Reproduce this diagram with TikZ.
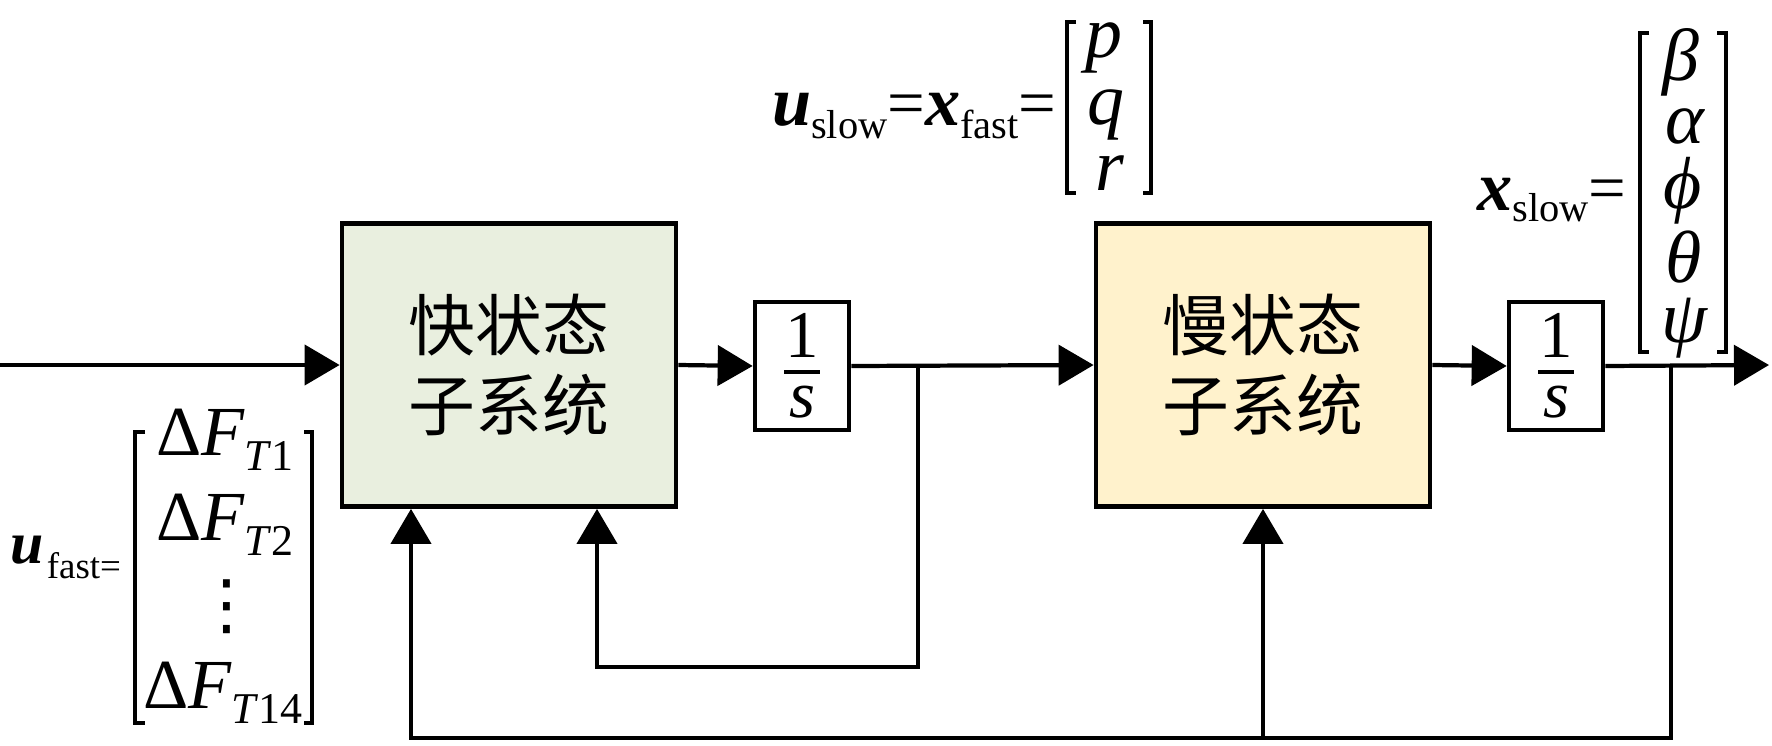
\documentclass[tikz,border=0pt]{standalone}
\usepackage{fontspec}
\setmainfont{Liberation Serif}[UprightFont=*, BoldFont=* Bold, ItalicFont=* Italic, BoldItalicFont=* Bold Italic]
\newfontfamily\tms{Liberation Serif}[UprightFont=*, BoldFont=* Bold, ItalicFont=* Italic, BoldItalicFont=* Bold Italic]
\newfontfamily\cjk{Noto Sans CJK SC}
\newfontfamily\djv{DejaVu Sans}
\usetikzlibrary{arrows.meta}
\definecolor{fastfill}{HTML}{E9EFDF}
\definecolor{slowfill}{HTML}{FFF2CC}
\newcommand\fsz[1]{\fontsize{#1}{#1}\selectfont}
\newcommand\lsub[3]{\raisebox{-#1}{\fsz{#2}#3}}
\newcommand\bvec[1]{{\bfseries\itshape #1}}
\newcommand\invs{\vbox{\hbox to 10pt{\hss 1\hss}\kern3.6pt\hrule height 1pt\kern3.6pt\hbox to 10pt{\hss\textit{s}\hss}}}
\begin{document}
\begin{tikzpicture}[x=0.01cm,y=-0.01cm,
  line width=1.2pt,
  arr/.style={-{Triangle[length=0.35cm,width=0.4cm]}},
  block/.style={draw, line width=1.3pt, inner sep=0pt, minimum width=3.34cm,
    minimum height=2.83cm, align=center, font={\cjk\fontsize{19}{23}\selectfont}},
  integ/.style={draw, fill=white, line width=1.3pt, inner sep=0pt,
    minimum width=0.94cm, minimum height=1.28cm, font={\tms\fsz{19}}},
  brk/.style={line width=1.4pt},
  lbl/.style={inner sep=0pt, font={\tms\fsz{20}}},
  ent/.style={inner sep=0pt, anchor=base, font={\tms\fsz{21}\itshape}},
]
\useasboundingbox (0,0) rectangle (1772,745);

% blocks
\node[block, fill=fastfill] (fast) at (509,365) {快状态\\子系统};
\node[integ] (int1) at (802,366) {\invs};
\node[block, fill=slowfill] (slow) at (1263,365) {慢状态\\子系统};
\node[integ] (int2) at (1556,366) {\invs};

% coordinates
\coordinate (in) at (0,365);
\coordinate (out) at (1769,365);
\coordinate (b1) at (918,365);
\coordinate (fb1) at (597,667);
\coordinate (b2) at (1671,365);
\coordinate (fb2) at (411,738);

% connectors
\draw[arr] (in) -- (fast.west);
\draw[arr] (fast.east) -- (int1.west);
\draw[arr] (int1.east) -- (slow.west);
\draw[arr] (slow.east) -- (int2.west);
\draw[arr] (int2.east) -- (out);
\draw[arr] (b1) |- (fb1) -- (fb1 |- fast.south);
\draw[arr] (b2) |- (fb2) -- (fb2 |- fast.south);
\draw[arr] (slow.south |- fb2) -- (slow.south);

% u_fast label and vector
\node[lbl, anchor=base west] (ufl) at (8,563)
  {{\fsz{17}\bvec{u}}\kern1pt\lsub{4.3pt}{10.5}{fast=}};
\draw[brk] (145,432) -- (135,432) -- (135,723) -- (145,723);
\draw[brk] (304,432) -- (312,432) -- (312,723) -- (304,723);
\node[lbl, anchor=base] (f1) at (225,455) {Δ\textit{F}\lsub{4.3pt}{12.5}{\textit{T}1}};
\node[lbl, anchor=base] (f2) at (225,540) {Δ\textit{F}\lsub{4.3pt}{12.5}{\textit{T}2}};
\node[inner sep=0pt, font={\djv\fsz{19}}] (fdots) at (227,607) {⋮};
\node[lbl, anchor=base] (f14) at (223,708) {Δ\textit{F}\lsub{4.3pt}{12.5}{\textit{T}14}};

% u_slow = x_fast label and vector
\node[lbl, anchor=base west, font={\tms\fsz{19}}] (usl) at (770,125)
  {{\fsz{20}\bvec{u}}\lsub{3.7pt}{11.5}{slow}={\fsz{20}\bvec{x}}\lsub{3.7pt}{11.5}{fast}=};
\draw[brk] (1076,22) -- (1067,22) -- (1067,193) -- (1076,193);
\draw[brk] (1143,22) -- (1151,22) -- (1151,193) -- (1143,193);
\node[ent] (ep) at (1104,57) {p};
\node[ent] (eq) at (1106,124) {q};
\node[ent] (er) at (1110,190) {r};

% x_slow label and vector
\node[lbl, anchor=base west, font={\tms\fsz{19}}] (xsl) at (1475,210)
  {{\fsz{20}\bvec{x}}\lsub{3.4pt}{11.5}{slow}=};
\draw[brk] (1649,33) -- (1640,33) -- (1640,352) -- (1649,352);
\draw[brk] (1717,33) -- (1726,33) -- (1726,352) -- (1717,352);
\node[ent] (eb) at (1681,80) {β};
\node[ent] (ea) at (1685,143) {α};
\node[ent] (ephi) at (1683,208) {ϕ};
\node[ent] (eth) at (1684,282) {θ};
\node[ent] (eps) at (1684,342) {ψ};
\end{tikzpicture}
\end{document}
